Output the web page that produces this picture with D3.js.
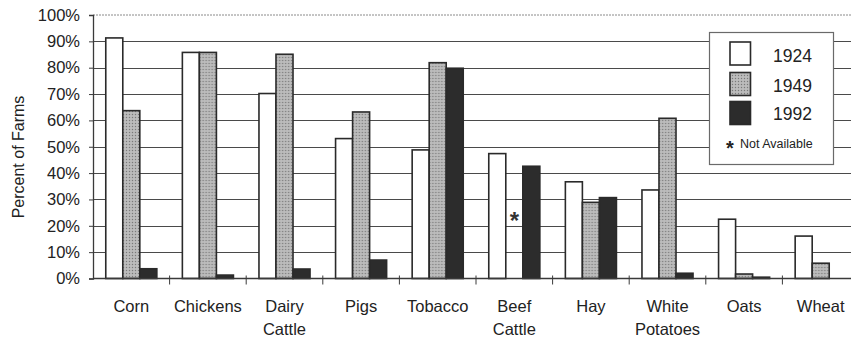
<!DOCTYPE html>
<html>
<head>
<meta charset="utf-8">
<script src="https://cdn.jsdelivr.net/npm/d3@7"></script>
<style>
  html, body { margin: 0; padding: 0; background: #fff; }
  svg { display: block; font-family: "Liberation Sans", Arial, sans-serif; }
</style>
</head>
<body>
<svg id="chart" width="851" height="340"></svg>
<script>
// Share of farms raising each product, by census year
const categories = ["Corn", "Chickens", "Dairy Cattle", "Pigs", "Tobacco", "Beef Cattle", "Hay", "White Potatoes", "Oats", "Wheat"];
const years = ["1924", "1949", "1992"];
const values1924 = [91.3, 85.8, 70.2, 53.1, 48.8, 47.4, 36.7, 33.6, 22.5, 16.1];
const values1949 = [63.7, 85.8, 85.1, 63.2, 81.9, null, 28.9, 60.8, 1.7, 5.8];
const values1992 = [3.7, 1.3, 3.6, 7.0, 79.8, 42.6, 30.7, 2.0, 0.5, 0];
const yTicks = [0, 10, 20, 30, 40, 50, 60, 70, 80, 90, 100];
const series = [values1924, values1949, values1992];

const svg = d3.select("#chart");
const ink = "#3a3a3a";

// stipple pattern for the 1949 bars
const defs = svg.append("defs");
const pat = defs.append("pattern")
  .attr("id", "stipple").attr("width", 3).attr("height", 3)
  .attr("patternUnits", "userSpaceOnUse");
pat.append("rect").attr("width", 3).attr("height", 3).attr("fill", "#b4b4b4");
pat.append("rect").attr("x", 0).attr("y", 0).attr("width", 1).attr("height", 1).attr("fill", "#7a7a7a");
pat.append("rect").attr("x", 1.5).attr("y", 1.5).attr("width", 1).attr("height", 1).attr("fill", "#d6d6d6");

const fills = ["#ffffff", "url(#stipple)", "#2c2c2c"];

const left = 93, bandW = 76.6;
const x = d3.scaleBand().domain(categories)
  .range([left, left + bandW * categories.length]).paddingInner(0).paddingOuter(0);
const y = d3.scaleLinear().domain([0, 100]).range([278.5, 15]);
const sub = d3.scaleBand().domain(years)
  .range([0, x.bandwidth()]).paddingInner(0).paddingOuter(0.75);

// horizontal gridlines
svg.append("g").selectAll("line")
  .data(yTicks.filter(d => d > 0 && d < 100))
  .join("line")
  .attr("x1", left).attr("x2", 851)
  .attr("y1", d => Math.round(y(d)) + 0.5).attr("y2", d => Math.round(y(d)) + 0.5)
  .attr("stroke", "#4a4a4a").attr("stroke-width", 1);

// top border of the plot area (dotted)
svg.append("line")
  .attr("x1", left).attr("x2", 851)
  .attr("y1", y(100)).attr("y2", y(100))
  .attr("stroke", "#8a8a8a").attr("stroke-width", 1)
  .attr("stroke-dasharray", "2,1");

// bars
const groups = svg.append("g").selectAll("g")
  .data(categories).join("g")
  .attr("transform", d => `translate(${x(d)},0)`);

groups.selectAll("rect")
  .data((c, i) => years.map((yr, k) => ({ yr, k, v: series[k][i] })).filter(d => d.v !== null))
  .join("rect")
  .attr("x", d => sub(d.yr))
  .attr("width", sub.bandwidth())
  .attr("y", d => y(d.v))
  .attr("height", d => y(0) - y(d.v))
  .attr("fill", d => fills[d.k])
  .attr("stroke", d => d.v > 0 ? "#2a2a2a" : "none")
  .attr("stroke-width", 1.6);

// "not available" marker where a value is missing
groups.each(function (c, i) {
  years.forEach((yr, k) => {
    if (series[k][i] === null) {
      d3.select(this).append("text")
        .attr("x", sub(yr) + sub.bandwidth() / 2)
        .attr("y", 229)
        .attr("text-anchor", "middle")
        .attr("font-size", 24)
        .attr("font-weight", "bold")
        .attr("fill", "#333")
        .text("*");
    }
  });
});

// y axis
const yAxis = d3.axisLeft(y).tickValues(yTicks).tickSize(4).tickPadding(9)
  .tickFormat(d => d + "%");
const gy = svg.append("g").attr("transform", `translate(${left},0)`).call(yAxis);
gy.select(".domain").attr("stroke", ink).attr("stroke-width", 1.3);
gy.selectAll(".tick line").attr("stroke", ink);
gy.selectAll(".tick text").attr("font-size", 16.5).attr("fill", "#222")
  .attr("font-family", "'Liberation Sans', Arial, sans-serif");

// x axis baseline and category separators
svg.append("line").attr("x1", left).attr("x2", 851)
  .attr("y1", y(0)).attr("y2", y(0)).attr("stroke", ink).attr("stroke-width", 1.3);
svg.append("g").selectAll("line")
  .data(categories.slice(1))
  .join("line")
  .attr("x1", d => x(d)).attr("x2", d => x(d))
  .attr("y1", y(0) - 3).attr("y2", y(0) + 6)
  .attr("stroke", ink).attr("stroke-width", 1);

// category labels (two lines where the name has two words)
const lab = svg.append("g").selectAll("text")
  .data(categories).join("text")
  .attr("x", d => x(d) + x.bandwidth() / 2)
  .attr("y", 311.5)
  .attr("text-anchor", "middle")
  .attr("font-size", 16.5)
  .attr("fill", "#222");
lab.each(function (d) {
  const words = d.split(" ");
  const t = d3.select(this);
  words.forEach((w, i) => {
    t.append("tspan").attr("x", x(d) + x.bandwidth() / 2)
      .attr("dy", i === 0 ? 0 : 23.5).text(w);
  });
});

// y axis title
svg.append("text")
  .attr("transform", "translate(24,157) rotate(-90)")
  .attr("text-anchor", "middle")
  .attr("font-size", 16)
  .attr("fill", "#222")
  .text("Percent of Farms");

// legend
const lg = svg.append("g");
lg.append("rect").attr("x", 709.5).attr("y", 32.5).attr("width", 124).attr("height", 132)
  .attr("fill", "#fff").attr("stroke", "#6a6a6a").attr("stroke-width", 1.2);
const swY = [42, 72.5, 101.5];
const txY = [61.5, 92, 120];
years.forEach((yr, k) => {
  lg.append("rect").attr("x", 730).attr("y", swY[k]).attr("width", 20.5).attr("height", 23)
    .attr("fill", fills[k]).attr("stroke", "#2a2a2a").attr("stroke-width", 1.6);
  lg.append("text").attr("x", 773).attr("y", txY[k]).attr("font-size", 17.5)
    .attr("fill", "#222").text(yr);
});
lg.append("text").attr("x", 726).attr("y", 155).attr("font-size", 20).attr("font-weight", "bold")
  .attr("fill", "#222").text("*");
lg.append("text").attr("x", 740).attr("y", 147.5).attr("font-size", 12.5).attr("fill", "#222").text("Not Available");
</script>
</body>
</html>
